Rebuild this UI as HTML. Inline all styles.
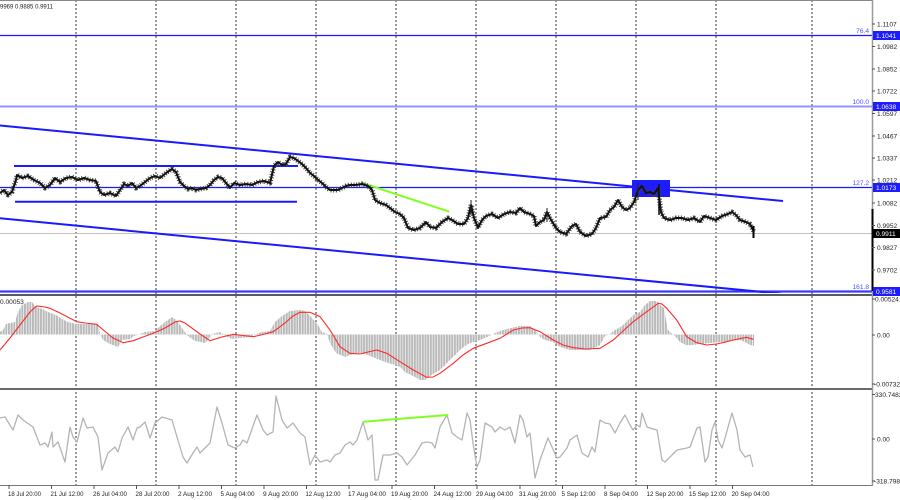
<!DOCTYPE html>
<html><head><meta charset="utf-8"><style>
html,body{margin:0;padding:0;background:#fff;}
svg{display:block;}
text{font-family:"Liberation Sans",sans-serif;font-size:6.6px;fill:#222;}
.ax{font-size:6.6px;}
.lv{fill:#5050ff;font-size:6.6px;}
.bx{fill:#fff;font-size:6.6px;}
</style></head><body>
<svg width="900" height="500" viewBox="0 0 900 500" xmlns="http://www.w3.org/2000/svg">
<defs>
<clipPath id="cm"><rect x="0" y="0" width="872" height="293"/></clipPath>
<clipPath id="cd"><rect x="0" y="296" width="872" height="92"/></clipPath>
<clipPath id="cc"><rect x="0" y="390" width="872" height="95"/></clipPath>
<pattern id="hs" patternUnits="userSpaceOnUse" width="2.67" height="10"><rect x="0" y="0" width="2" height="10" fill="#b8b8b8"/></pattern>
</defs>
<rect width="900" height="500" fill="#fff"/>

<!-- grid dashed verticals -->
<g stroke="#333" stroke-width="1" stroke-dasharray="2 2">
<line x1="76" y1="0" x2="76" y2="485"/><line x1="156" y1="0" x2="156" y2="485"/>
<line x1="236" y1="0" x2="236" y2="485"/><line x1="316" y1="0" x2="316" y2="485"/>
<line x1="396" y1="0" x2="396" y2="485"/><line x1="476" y1="0" x2="476" y2="485"/>
<line x1="556" y1="0" x2="556" y2="485"/><line x1="636" y1="0" x2="636" y2="485"/>
<line x1="716" y1="0" x2="716" y2="485"/><line x1="812" y1="0" x2="812" y2="485"/>
</g>

<!-- main pane -->
<g clip-path="url(#cm)">
<line x1="0" y1="233.5" x2="872" y2="233.5" stroke="#c0c0c0" stroke-width="1"/>
<line x1="0" y1="35.5" x2="872" y2="35.5" stroke="#1a1aff" stroke-width="1.3"/>
<line x1="0" y1="106.5" x2="872" y2="106.5" stroke="#9494ff" stroke-width="2"/>
<line x1="0" y1="187.5" x2="872" y2="187.5" stroke="#1a1aff" stroke-width="1.3"/>
<line x1="0" y1="291.5" x2="872" y2="291.5" stroke="#3a3aff" stroke-width="2.2"/>
<line x1="0" y1="125.5" x2="783" y2="201" stroke="#1a1aff" stroke-width="2"/>
<line x1="0" y1="218.3" x2="783" y2="294" stroke="#1a1aff" stroke-width="2"/>
<line x1="14" y1="166" x2="298" y2="166" stroke="#1a1aff" stroke-width="2"/>
<line x1="15" y1="201.7" x2="297" y2="201.7" stroke="#1a1aff" stroke-width="2"/>
<rect x="632" y="180" width="38" height="17" fill="#1c1cff"/>
<line x1="361.5" y1="182.7" x2="449.3" y2="211.7" stroke="#80ff20" stroke-width="2"/>
<g fill="none" stroke-linejoin="round">
<polyline stroke="#444" stroke-width="5" stroke-dasharray="1 1.67" points="0,193 4,190 8,195 12,192 16,180 17,175 22,178 28,176 34,180 40,183 45,188 50,185 55,178 60,182 66,178 72,177 78,180 84,178 90,180 96,181 100,192 104,195 110,193 116,196 120,190 124,184 128,186 132,183 136,188 140,186 145,182 150,178 155,176 160,178 166,173 172,169 176,172 180,182 184,186 188,189 192,188 196,190 200,189 206,188 210,185 214,180 218,177 222,178 226,183 230,188 234,183 240,185 246,184 252,185 258,182 264,181 270,183 274,166 278,162 282,165 286,164 290,157 294,158 298,161 302,164 306,168 310,173 314,176 318,180 322,183 326,187 330,190 334,190 338,190 342,188 346,186 350,185 356,185 362,184 368,186 372,190 375,200 380,203 386,205 390,208 395,212 400,214 404,218 408,228 414,230 420,228 426,222 430,227 436,228 442,222 448,218 452,220 458,224 464,224 468,218 471,205 474,218 478,228 482,220 486,216 492,214 498,218 504,214 510,212 516,213 520,208 524,212 530,214 534,216 536,226 540,222 544,220 547,212 550,218 556,228 560,232 566,234 572,226 576,224 580,232 586,236 592,234 596,228 600,218 606,217 610,210 614,207 618,200 622,207 626,210 630,208 634,202 638,190 642,186 646,193 650,192 654,194 658,188 661,212 664,218 670,220 676,218 682,218 688,220 694,218 700,222 704,216 710,218 716,220 722,216 728,214 732,212 736,215 740,220 746,222 750,224 754,232"/>
<polyline stroke="#111" stroke-width="2" points="0,193 4,190 8,195 12,192 16,180 17,175 22,178 28,176 34,180 40,183 45,188 50,185 55,178 60,182 66,178 72,177 78,180 84,178 90,180 96,181 100,192 104,195 110,193 116,196 120,190 124,184 128,186 132,183 136,188 140,186 145,182 150,178 155,176 160,178 166,173 172,169 176,172 180,182 184,186 188,189 192,188 196,190 200,189 206,188 210,185 214,180 218,177 222,178 226,183 230,188 234,183 240,185 246,184 252,185 258,182 264,181 270,183 274,166 278,162 282,165 286,164 290,157 294,158 298,161 302,164 306,168 310,173 314,176 318,180 322,183 326,187 330,190 334,190 338,190 342,188 346,186 350,185 356,185 362,184 368,186 372,190 375,200 380,203 386,205 390,208 395,212 400,214 404,218 408,228 414,230 420,228 426,222 430,227 436,228 442,222 448,218 452,220 458,224 464,224 468,218 471,205 474,218 478,228 482,220 486,216 492,214 498,218 504,214 510,212 516,213 520,208 524,212 530,214 534,216 536,226 540,222 544,220 547,212 550,218 556,228 560,232 566,234 572,226 576,224 580,232 586,236 592,234 596,228 600,218 606,217 610,210 614,207 618,200 622,207 626,210 630,208 634,202 638,190 642,186 646,193 650,192 654,194 658,188 661,212 664,218 670,220 676,218 682,218 688,220 694,218 700,222 704,216 710,218 716,220 722,216 728,214 732,212 736,215 740,220 746,222 750,224 754,232"/>
</g>
<line x1="753.5" y1="226" x2="753.5" y2="238" stroke="#000" stroke-width="2"/>
<line x1="471" y1="200" x2="471" y2="215" stroke="#222" stroke-width="1"/>
<line x1="547" y1="208" x2="547" y2="222" stroke="#222" stroke-width="1"/>
<line x1="638" y1="183" x2="638" y2="200" stroke="#222" stroke-width="1"/>
<line x1="659" y1="184" x2="659" y2="215" stroke="#111" stroke-width="1.5"/>
<text x="869" y="33" class="lv" text-anchor="end">76.4</text>
<text x="869" y="104" class="lv" text-anchor="end">100.0</text>
<text x="869" y="185" class="lv" text-anchor="end">127.2</text>
<text x="869" y="289" class="lv" text-anchor="end">161.8</text>
</g>
<text x="0" y="8.5" textLength="53" lengthAdjust="spacingAndGlyphs">9969 0.9885 0.9911</text>

<!-- MACD pane -->
<g clip-path="url(#cd)">
<polygon fill="url(#hs)" points="0,334.5 0,332 3,330 6,324 15,322 18,312 22,305 28,302 32,302 36,307 42,309 48,312 56,315 62,319 68,322 76,324 98,324 100,334 103,340 110,344 118,347 122,340 130,339 134,336 140,334 145,332 155,331 160,326 168,320 172,317 176,320 180,325 184,331 188,336 195,341 205,343 208,340 212,334 220,332 226,336 232,339 240,338 250,337 256,334 262,332 270,331 275,322 282,316 290,311 300,310 305,311 312,318 318,325 322,332 327,334 330,343 336,353 345,357 350,355 360,353 368,355 375,358 385,362 395,365 400,367 405,372 415,377 420,380 425,380 430,376 440,370 445,365 450,360 455,355 460,350 465,346 470,343 480,340 487,337 493,334 500,331 507,329 515,327 520,326 530,326 535,330 540,337 545,340 553,342 560,347 570,350 580,350 590,350 600,345 605,336 610,334 615,330 622,326 628,320 635,314 640,312 645,305 650,301 655,301 658,302 660,305 664,308 666,320 668,330 672,334 675,336 680,342 686,345 692,345 700,344 710,343 720,342 730,341 740,340 745,342 750,345 754,346 754,334.5"/>
<polyline fill="none" stroke="#ff2a2a" stroke-width="1.1" points="0,350 10,338 20,325 30,312 36.7,306 45,307 50,308.3 60,313 76.7,321.7 85,323 96.7,324.3 103.3,330 113,338 123.3,342.7 133.3,340.7 143,337 153.3,333.3 165,328 175,322 180,321 185,323 190,326.7 200,334 210,340.7 222,337 233.3,334.3 243,335.5 253.3,336.7 263,334.5 273.3,331.7 285,323 293,316 300,312.3 310,312.3 320,316.7 330,330 340,346.7 350,353.3 360,354 368,352 376.7,350 386.7,353.3 400,361.7 413.3,370 426.7,377.3 433,377 440,373.3 453.3,363.3 463,355 473.3,348.3 486.7,343.3 500,338.3 513.3,330 522,328 530,327.7 540,331.7 553.3,340 563,345 573.3,347.7 586,349 600,348.3 613.3,340 623,331 633.3,321.7 646.7,311.7 658.3,303.3 662,304 666.7,308.3 676.7,320 686.7,336.7 696.7,342.7 706.7,345 716.7,344 726.7,341.7 733.3,340 746.7,337.3 753.3,339.3"/>
<text x="0" y="304">0.00053</text>
</g>

<!-- CCI pane -->
<g clip-path="url(#cc)">
<polyline fill="none" stroke="#b4b4b4" stroke-width="1.3" stroke-linejoin="round" points="0,418 5,417 13,430 18,415 23,420 33,427 40,445 45,443 48,447 52,432 53,447 58,442 65,462 70,427 73,437 77,442 83,418 87,428 93,427 98,437 102,470 108,453 115,447 118,452 122,438 128,427 133,440 137,428 140,427 145,422 150,438 155,423 162,417 172,420 177,437 183,457 187,463 193,453 197,447 200,453 210,443 217,407 222,423 228,445 235,448 240,445 243,440 247,443 257,415 263,430 267,435 273,432 276,396 282,420 287,428 293,423 300,433 305,437 310,465 315,455 320,462 327,460 330,462 335,455 340,453 345,445 350,442 353,445 357,440 363,422 368,440 372,435 375,480 378,480 383,455 390,455 397,453 402,457 407,465 415,455 422,443 427,442 432,443 435,448 440,427 447,415 452,433 457,437 462,440 467,413 470,420 473,443 477,467 480,460 485,423 492,427 495,432 500,427 505,430 510,427 515,443 520,415 523,420 527,437 530,433 535,478 540,460 548,438 552,447 557,458 560,457 567,448 570,440 577,435 582,453 588,457 592,447 595,452 600,420 605,423 610,424 615,433 620,423 625,415 630,425 633,430 637,425 640,427 642,413 647,427 653,429 657,430 662,460 665,462 670,457 677,450 687,448 690,447 697,428 700,427 705,462 708,457 712,430 715,422 718,440 722,448 725,438 732,413 737,430 740,450 745,457 750,455 753,467"/>
<line x1="363.3" y1="421.7" x2="448.3" y2="415" stroke="#80ff20" stroke-width="2"/>
</g>

<!-- frames / separators -->
<line x1="0" y1="0.5" x2="872" y2="0.5" stroke="#888" stroke-width="1"/>
<line x1="0" y1="295" x2="872" y2="295" stroke="#5a5a5a" stroke-width="2"/>
<line x1="0" y1="389" x2="872" y2="389" stroke="#6a6a6a" stroke-width="2"/>
<line x1="0" y1="485.5" x2="872" y2="485.5" stroke="#777" stroke-width="1"/>
<line x1="872.5" y1="0" x2="872.5" y2="486" stroke="#9a9a9a" stroke-width="1.5"/>
<line x1="872.5" y1="209" x2="872.5" y2="291" stroke="#000" stroke-width="2"/>

<!-- price axis -->
<g stroke="#555" stroke-width="1">
<line x1="872" y1="24" x2="875" y2="24"/><line x1="872" y1="46.5" x2="875" y2="46.5"/>
<line x1="872" y1="69" x2="875" y2="69"/><line x1="872" y1="91" x2="875" y2="91"/>
<line x1="872" y1="113.5" x2="875" y2="113.5"/><line x1="872" y1="136" x2="875" y2="136"/>
<line x1="872" y1="158" x2="875" y2="158"/><line x1="872" y1="180" x2="875" y2="180"/>
<line x1="872" y1="203" x2="875" y2="203"/><line x1="872" y1="225.5" x2="875" y2="225.5"/>
<line x1="872" y1="247.5" x2="875" y2="247.5"/><line x1="872" y1="270" x2="875" y2="270"/>
<line x1="872" y1="299" x2="875" y2="299"/><line x1="872" y1="335" x2="875" y2="335"/>
<line x1="872" y1="384" x2="875" y2="384"/><line x1="872" y1="394.5" x2="875" y2="394.5"/>
<line x1="872" y1="439" x2="875" y2="439"/><line x1="872" y1="481" x2="875" y2="481"/>
</g>
<g class="ax">
<text x="877" y="26.5">1.1107</text>
<text x="877" y="49">1.0982</text>
<text x="877" y="71.5">1.0852</text>
<text x="877" y="93.5">1.0722</text>
<text x="877" y="116">1.0597</text>
<text x="877" y="138.5">1.0467</text>
<text x="877" y="160.5">1.0337</text>
<text x="877" y="182.5">1.0212</text>
<text x="877" y="205.5">1.0082</text>
<text x="877" y="228">0.9952</text>
<text x="877" y="250">0.9827</text>
<text x="877" y="272.5">0.9702</text>
<text x="875" y="301.5">0.00524</text>
<text x="877" y="337.5">0.00</text>
<text x="874" y="386.5">-0.00732</text>
<text x="875" y="397">330.7482</text>
<text x="877" y="441.5">0.00</text>
<text x="874" y="483.5">-318.798</text>
</g>
<rect x="873" y="31" width="27" height="9" fill="#1c1cff"/>
<text x="876" y="37.8" class="bx">1.1041</text>
<rect x="873" y="102" width="27" height="9" fill="#1c1cff"/>
<text x="876" y="108.8" class="bx">1.0638</text>
<rect x="873" y="183" width="27" height="9" fill="#1c1cff"/>
<text x="876" y="189.8" class="bx">1.0173</text>
<rect x="873" y="229" width="27" height="9" fill="#000"/>
<text x="876" y="235.8" class="bx">0.9911</text>
<rect x="873" y="287" width="27" height="9" fill="#1c1cff"/>
<text x="876" y="293.8" class="bx">0.9581</text>

<!-- time axis -->
<g stroke="#555" stroke-width="1">
<line x1="9" y1="485" x2="9" y2="489"/><line x1="51.5" y1="485" x2="51.5" y2="489"/>
<line x1="94" y1="485" x2="94" y2="489"/><line x1="136.5" y1="485" x2="136.5" y2="489"/>
<line x1="179" y1="485" x2="179" y2="489"/><line x1="221.5" y1="485" x2="221.5" y2="489"/>
<line x1="264" y1="485" x2="264" y2="489"/><line x1="306.5" y1="485" x2="306.5" y2="489"/>
<line x1="349" y1="485" x2="349" y2="489"/><line x1="392" y1="485" x2="392" y2="489"/>
<line x1="434.5" y1="485" x2="434.5" y2="489"/><line x1="477" y1="485" x2="477" y2="489"/>
<line x1="520" y1="485" x2="520" y2="489"/><line x1="562.5" y1="485" x2="562.5" y2="489"/>
<line x1="605" y1="485" x2="605" y2="489"/><line x1="647.5" y1="485" x2="647.5" y2="489"/>
<line x1="690" y1="485" x2="690" y2="489"/><line x1="732.5" y1="485" x2="732.5" y2="489"/>
</g>
<g class="ax">
<text x="8" y="496" textLength="33" lengthAdjust="spacingAndGlyphs">18 Jul 20:00</text>
<text x="50.5" y="496" textLength="33" lengthAdjust="spacingAndGlyphs">21 Jul 12:00</text>
<text x="93" y="496" textLength="34" lengthAdjust="spacingAndGlyphs">26 Jul 04:00</text>
<text x="135.5" y="496" textLength="34" lengthAdjust="spacingAndGlyphs">28 Jul 20:00</text>
<text x="178" y="496" textLength="34" lengthAdjust="spacingAndGlyphs">2 Aug 12:00</text>
<text x="220.5" y="496" textLength="34" lengthAdjust="spacingAndGlyphs">5 Aug 04:00</text>
<text x="263" y="496" textLength="35" lengthAdjust="spacingAndGlyphs">9 Aug 20:00</text>
<text x="305.5" y="496" textLength="35" lengthAdjust="spacingAndGlyphs">12 Aug 12:00</text>
<text x="348" y="496" textLength="38" lengthAdjust="spacingAndGlyphs">17 Aug 04:00</text>
<text x="391" y="496" textLength="37" lengthAdjust="spacingAndGlyphs">19 Aug 20:00</text>
<text x="433.5" y="496" textLength="38" lengthAdjust="spacingAndGlyphs">24 Aug 12:00</text>
<text x="476" y="496" textLength="37" lengthAdjust="spacingAndGlyphs">29 Aug 04:00</text>
<text x="519" y="496" textLength="37" lengthAdjust="spacingAndGlyphs">31 Aug 20:00</text>
<text x="561.5" y="496" textLength="34" lengthAdjust="spacingAndGlyphs">5 Sep 12:00</text>
<text x="604" y="496" textLength="34" lengthAdjust="spacingAndGlyphs">8 Sep 04:00</text>
<text x="646.5" y="496" textLength="37" lengthAdjust="spacingAndGlyphs">12 Sep 20:00</text>
<text x="689" y="496" textLength="37" lengthAdjust="spacingAndGlyphs">15 Sep 12:00</text>
<text x="731.5" y="496" textLength="38" lengthAdjust="spacingAndGlyphs">20 Sep 04:00</text>
</g>
</svg>
</body></html>
